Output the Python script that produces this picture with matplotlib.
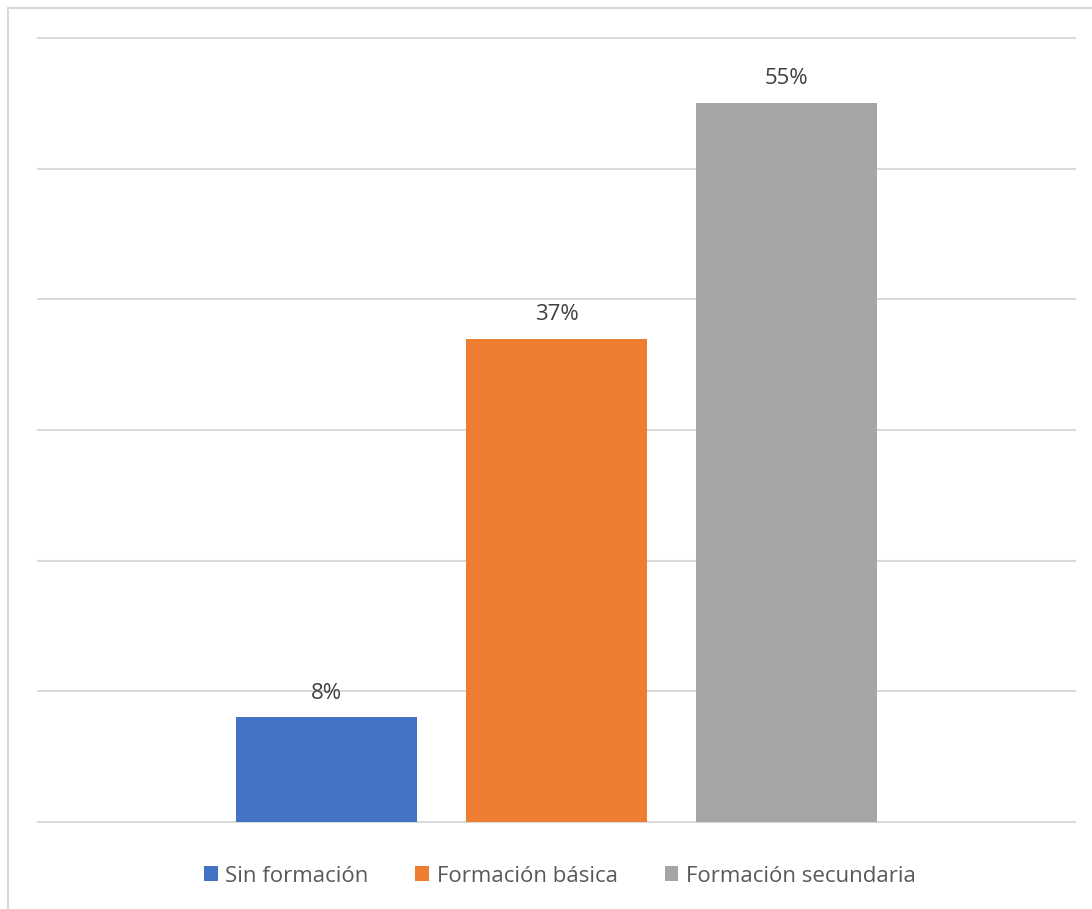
import matplotlib.pyplot as plt
from matplotlib.patches import Patch, Rectangle

categorias = ['Sin formación', 'Formación básica', 'Formación secundaria']
valores = [8, 37, 55]
colores = ['#4472C4', '#ED7D31', '#A5A5A5']

plt.rcParams['font.family'] = ['Open Sans', 'DejaVu Sans']

W, H = 1092, 909
fig = plt.figure(figsize=(W / 100, H / 100), dpi=100)

# marco del grafico (solo se ven lados izquierdo y superior)
fig.patches.append(Rectangle((8 / W, -0.05), 1.1, 1 - 8 / H + 0.05,
                             transform=fig.transFigure, fill=False,
                             edgecolor='#d9d9d9', linewidth=1.5))

ax = fig.add_axes([38 / W, 1 - 822 / H, (1075 - 38) / W, (822 - 38) / H])
pos = list(range(len(categorias)))
barras = ax.bar(pos, valores, width=0.79, color=colores, zorder=3)
ax.bar_label(barras, labels=['%d%%' % v for v in valores], padding=10,
             fontsize=16, color='#404040')

ax.set_ylim(0, 60)
ax.set_xlim(-1.255, 3.255)
ax.set_yticks(range(0, 61, 10))
ax.yaxis.grid(True, color='#d9d9d9', linewidth=1.5, zorder=0)
for g in ax.get_ygridlines():
    g.set_clip_on(False)
ax.tick_params(left=False, bottom=False, labelleft=False, labelbottom=False)
for s in ax.spines.values():
    s.set_visible(False)

handles = [Patch(facecolor=c, edgecolor='none') for c in colores]
fig.legend(handles, categorias, loc='center', ncol=3,
           bbox_to_anchor=(560 / W, 1 - 876 / H), frameon=False,
           fontsize=16, labelcolor='#595959', handlelength=0.62,
           handleheight=0.62, handletextpad=0.35, columnspacing=2.1)

fig.savefig('out.png', dpi=100)
